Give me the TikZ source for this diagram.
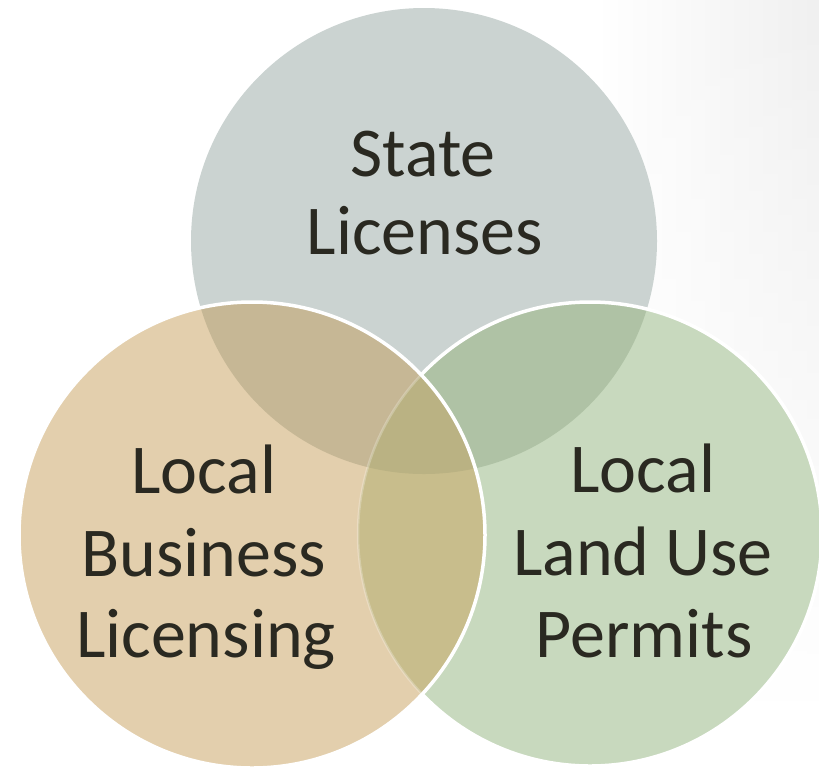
\documentclass[tikz,border=0pt]{standalone}
\usepackage{fontspec}
\setmainfont{Carlito}
\usetikzlibrary{fadings}
\definecolor{cgray}{HTML}{CBD3D1}
\definecolor{ctan}{HTML}{E3CFAD}
\definecolor{cgreen}{HTML}{C8D9BE}
\definecolor{ctg}{HTML}{C6B795}
\definecolor{cgg}{HTML}{AFC2A5}
\definecolor{ctgr}{HTML}{C8BD8C}
\definecolor{ctri}{HTML}{BAB283}
\definecolor{ctext}{HTML}{2A2921}
\definecolor{bgshade}{HTML}{E6E6E6}
\pgfdeclarehorizontalshading{bgsh}{100bp}{color(0bp)=(white); color(35bp)=(white); color(100bp)=(bgshade)}
\tikzset{
  lbl/.style={font=\fontsize{70}{84}\selectfont, text=ctext, anchor=base, inner sep=0pt},
  rim/.style={draw=white, line width=3.5pt}
}
\begin{document}
\begin{tikzpicture}[x=1pt,y=-1pt]
\useasboundingbox (0,0) rectangle (819,772);
\clip (0,0) rectangle (819,772);
\fill[white] (0,0) rectangle (819,772);
\shade[shading=bgsh, path fading=south] (540,0) rectangle (819,700);
\coordinate (cT) at (424,241);
\coordinate (cL) at (252,535);
\coordinate (cR) at (590,534);
% top and right circles
\fill[cgray] (cT) circle[radius=233pt];
\fill[cgreen] (cR) circle[radius=232pt];
\begin{scope}
  \clip (cT) circle[radius=233pt];
  \fill[cgg] (cR) circle[radius=232pt];
\end{scope}
\path[rim] (cR) circle[radius=232pt];
% left circle and its overlaps
\fill[ctan] (cL) circle[radius=233pt];
\begin{scope}
  \clip (cL) circle[radius=233pt];
  \fill[ctg] (cT) circle[radius=233pt];
  \fill[ctgr] (cR) circle[radius=232pt];
  \clip (cT) circle[radius=233pt];
  \fill[ctri] (cR) circle[radius=232pt];
\end{scope}
\begin{scope}
  \clip (cL) circle[radius=233pt];
  \draw[white, opacity=0.25, line width=2.5pt] (cR) circle[radius=232pt];
\end{scope}
\path[rim] (cL) circle[radius=233pt];
% labels
\node[lbl] (s1) at (423,176) {State};
\node[lbl] (s2) at (425,254) {Licenses};
\node[lbl] (b1) at (204,493) {Local};
\node[lbl] (b2) at (204,576) {Business};
\node[lbl] (b3) at (206,657) {Licensing};
\node[lbl] (p1) at (643,492) {Local};
\node[lbl] (p2) at (643,575) {Land Use};
\node[lbl] (p3) at (644,657) {Permits};
\end{tikzpicture}
\end{document}
